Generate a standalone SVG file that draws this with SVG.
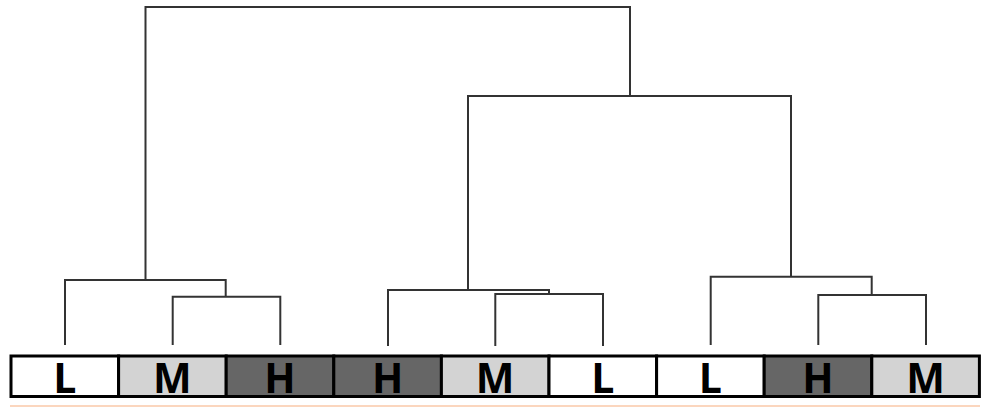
<svg xmlns="http://www.w3.org/2000/svg" width="987" height="407" viewBox="0 0 987 407">
<style>
.cell{stroke:#000;stroke-width:3}
.lo{fill:#fff}.mid{fill:#d3d3d3}.hi{fill:#666}
.lbl{font-family:"Open Sans","DejaVu Sans",sans-serif;font-weight:bold;font-size:41px;fill:#000;text-anchor:middle}
.ln{fill:none;stroke:#333;stroke-width:2}
</style>
<rect width="987" height="407" fill="#fff"/>
<g id="connectors">
<path class="ln" d="M65,345V280H225.7V296.7"/>
<path class="ln" d="M172.7,345V296.7H280.3V345"/>
<path class="ln" d="M388,346V290H549V294"/>
<path class="ln" d="M495.3,346V294H603V346"/>
<path class="ln" d="M710.7,345V276.7H871.7V295"/>
<path class="ln" d="M818.3,345V295H926V345"/>
<path class="ln" d="M145.5,280V7H630V96"/>
<path class="ln" d="M468,290V96H791V276.7"/>
</g>
<g id="n1"><rect class="cell lo" x="11" y="356" width="107.6" height="40.5"/><text class="lbl" x="64.8" y="393">L</text></g>
<g id="n2"><rect class="cell mid" x="118.6" y="356" width="107.6" height="40.5"/><text class="lbl" x="172.4" y="393">M</text></g>
<g id="n3"><rect class="cell hi" x="226.2" y="356" width="107.6" height="40.5"/><text class="lbl" x="280" y="393">H</text></g>
<g id="n4"><rect class="cell hi" x="333.8" y="356" width="107.6" height="40.5"/><text class="lbl" x="387.6" y="393">H</text></g>
<g id="n5"><rect class="cell mid" x="441.4" y="356" width="107.6" height="40.5"/><text class="lbl" x="495.2" y="393">M</text></g>
<g id="n6"><rect class="cell lo" x="549" y="356" width="107.6" height="40.5"/><text class="lbl" x="602.8" y="393">L</text></g>
<g id="n7"><rect class="cell lo" x="656.6" y="356" width="107.6" height="40.5"/><text class="lbl" x="710.4" y="393">L</text></g>
<g id="n8"><rect class="cell hi" x="764.2" y="356" width="107.6" height="40.5"/><text class="lbl" x="818" y="393">H</text></g>
<g id="n9"><rect class="cell mid" x="871.8" y="356" width="107.6" height="40.5"/><text class="lbl" x="925.6" y="393">M</text></g>
<line x1="10" y1="406" x2="980" y2="406" stroke="#fac8a8" stroke-width="1.5"/>
</svg>
